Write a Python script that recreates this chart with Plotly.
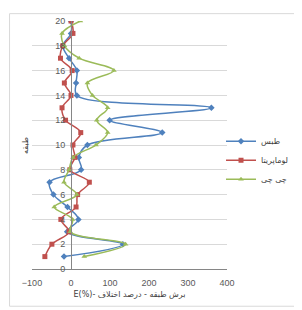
import plotly.graph_objects as go

storeys = list(range(1, 21))
tabas = [-18, 133, -10, 19, -9, -45, -55, 26, 20, 42, 234, 99, 360, 15, 13, 15, -5, -21, 0, 0]
loma = [-67, -49, -5, -26, 13, 17, 47, -3, 10, 5, 25, -14, -23, 0, -17, 3, -27, -21, 5, 0]
chichi = [34, 140, -2, 4, -43, 15, -18, -5, 5, 64, 94, 66, 94, 55, 42, 110, 21, -17, -23, 24]

names = ["طبس", "لوماپریتا", "چی چی"]
colors = ["#4F81BD", "#C0504D", "#9BBB59"]
symbols = ["diamond", "square", "triangle-up"]
msizes = [5, 5, 5]
xticks = [-100, 0, 100, 200, 300, 400]
yticks = list(range(0, 21, 2))

fig = go.Figure()
for vals, nm, c, s, ms in zip([tabas, loma, chichi], names, colors, symbols, msizes):
    fig.add_trace(go.Scatter(
        x=vals, y=storeys, name=nm, mode="lines+markers",
        line=dict(color=c, width=1.5, shape="spline", smoothing=1.0),
        marker=dict(symbol=s, size=ms, color=c),
    ))

OFF = 8  # page body margin
W, H = 302 - OFF, 310 - OFF
L, R, T, B = 31.5 - OFF, 227 - OFF, 16 - OFF, 269 - OFF

def px_x(p):
    return (p - OFF - L) / (R - L)

def px_y(p):
    return (B - (p - OFF)) / (B - T)

fig.update_layout(
    width=W, height=H,
    margin=dict(l=L, r=W - R, t=T, b=H - B, pad=0),
    paper_bgcolor="white", plot_bgcolor="white",
    font=dict(family="Liberation Sans", size=9, color="#595959"),
    showlegend=True,
    legend=dict(
        x=px_x(221), y=px_y(124), xanchor="left", yanchor="top",
        font=dict(family="DejaVu Sans", size=8, color="#404040"),
        itemwidth=30, tracegroupgap=0, bgcolor="rgba(0,0,0,0)",
    ),
    xaxis=dict(
        range=[-100, 400], tickvals=xticks, showgrid=False, zeroline=False,
        showline=True, linecolor="#868686", linewidth=1,
        ticks="", tickfont=dict(size=9, color="#595959"),
        ticklabelstandoff=5,
        title=dict(text="E(%)- برش طبقه - درصد اختلاف",
                   font=dict(family="DejaVu Sans", size=8, color="#404040"),
                   standoff=4),
    ),
    yaxis=dict(
        range=[0, 20], tickvals=yticks, showgrid=True, gridcolor="#D9D9D9",
        gridwidth=1, zeroline=False, showline=True, linecolor="#868686",
        linewidth=1, anchor="free", position=0.2, ticks="",
        ticklabelstandoff=4,
        tickfont=dict(size=9, color="#595959"),
    ),
    annotations=[dict(
        text="طبقه", textangle=-90, xref="paper", yref="paper",
        x=px_x(25), y=px_y(143), xanchor="center", yanchor="middle",
        showarrow=False,
        font=dict(family="DejaVu Sans", size=8, color="#404040"),
    )],
    shapes=[dict(
        type="rect", xref="paper", yref="paper",
        x0=px_x(9), x1=px_x(300.5), y0=px_y(307), y1=px_y(8.5),
        line=dict(color="#D9D9D9", width=1), fillcolor="rgba(0,0,0,0)",
        layer="below",
    )],
)

fig.write_html("out.html")
